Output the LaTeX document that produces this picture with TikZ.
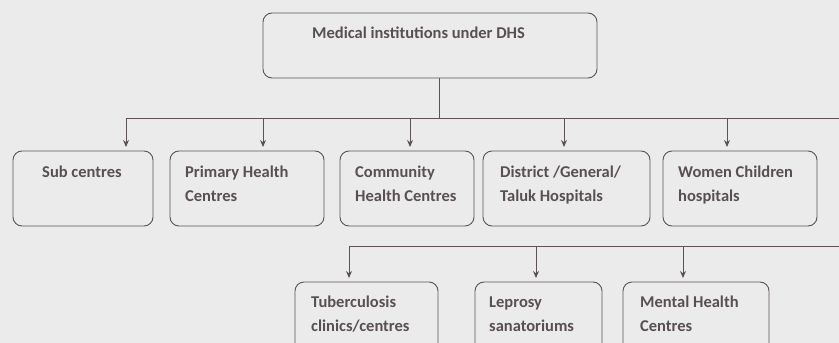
\documentclass[tikz,border=0pt]{standalone}
\usepackage{fontspec}
\setmainfont{Carlito}
\usetikzlibrary{arrows.meta,positioning,calc}
\definecolor{dhsBack}{RGB}{236,235,236}
\definecolor{dhsLine}{RGB}{92,82,82}
\definecolor{dhsText}{RGB}{88,80,80}

\begin{document}
\begin{tikzpicture}[x=1pt,y=-1pt,
  instbox/.style={draw=dhsLine, line width=0.9pt, rounded corners=9pt, inner sep=0pt, outer sep=0pt, minimum height=75pt},
  insttext/.style={anchor=base west, inner sep=0pt, align=left, text=dhsText, font=\bfseries\fontsize{16.5}{24}\selectfont},
  link/.style={dhsLine, line width=1pt},
  feed/.style={link, shorten >=4pt, -{Stealth[length=7pt,width=6pt]}}]
\clip (0,0) rectangle (839,343);
\fill[dhsBack] (0,0) rectangle (839,343);

% head box
\node[instbox, minimum width=334pt, minimum height=65pt] (dhs) at (430,45.5) {};
\node[insttext] (dhstxt) at ($(dhs.north west)+(49,25)$) {Medical institutions under DHS};

% first row (two-line texts sit on their last line)
\node[instbox, minimum width=140pt] (sub) at (83,188.5) {};
\node[instbox, minimum width=154pt, right=17pt of sub] (phc) {};
\node[instbox, minimum width=134pt, right=16pt of phc] (chc) {};
\node[instbox, minimum width=167pt, right=9pt of chc] (dgt) {};
\node[instbox, minimum width=154pt, right=13pt of dgt] (wch) {};

\node[insttext] (subtxt) at ($(sub.north west)+(29,26)$) {Sub centres};
\node[insttext] (phctxt) at ($(phc.north west)+(15,50)$) {Primary Health\\Centres};
\node[insttext] (chctxt) at ($(chc.north west)+(15,50)$) {Community\\Health Centres};
\node[insttext] (dgttxt) at ($(dgt.north west)+(17,50)$) {District /General/\\Taluk Hospitals};
\node[insttext] (wchtxt) at ($(wch.north west)+(15,50)$) {Women Children\\hospitals};

% second row
\node[instbox, minimum width=143pt] (tbc) at (366.5,319.5) {};
\node[instbox, minimum width=127pt, right=37pt of tbc] (lep) {};
\node[instbox, minimum width=146pt, right=21pt of lep] (mhc) {};

\node[insttext] (tbctxt) at ($(tbc.north west)+(16,49)$) {Tuberculosis\\clinics/centres};
\node[insttext] (leptxt) at ($(lep.north west)+(14,49)$) {Leprosy\\sanatoriums};
\node[insttext] (mhctxt) at ($(mhc.north west)+(17,49)$) {Mental Health\\Centres};

% connectors
\coordinate (rowA) at ($(dhs.south)+(9,40.5)$);
\coordinate (rowAEnd) at (839,118.5);
\coordinate (rowB) at ($(tbc.north)+(0,-36)$);
\coordinate (rowBEnd) at (rowB -| rowAEnd);
\coordinate (subIn) at ([xshift=43pt]sub.north);
\coordinate (phcIn) at ([xshift=16pt]phc.north);
\coordinate (chcIn) at ([xshift=3pt]chc.north);
\coordinate (dgtIn) at ([xshift=-2.5pt]dgt.north);
\coordinate (wchIn) at ([xshift=-13pt]wch.north);
\coordinate (tbcIn) at ([xshift=-17.5pt]tbc.north);
\coordinate (lepIn) at ([xshift=-2.5pt]lep.north);
\coordinate (mhcIn) at ([xshift=-13pt]mhc.north);

\draw[link] (rowA |- dhs.south) -- (rowA);
\draw[link] (subIn |- rowA) -- (rowAEnd);
\draw[link] (tbcIn |- rowB) -- (rowBEnd);
\foreach \inst in {subIn,phcIn,chcIn,dgtIn,wchIn}
  \draw[feed] (\inst |- rowA) -- (\inst);
\foreach \inst in {tbcIn,lepIn,mhcIn}
  \draw[feed] (\inst |- rowB) -- (\inst);
\end{tikzpicture}
\end{document}
